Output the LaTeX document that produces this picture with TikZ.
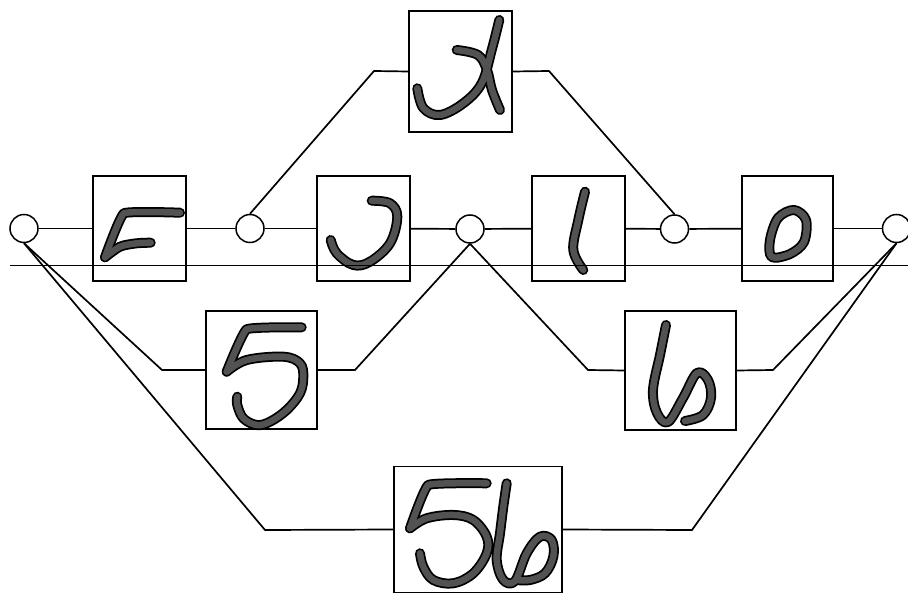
\documentclass[tikz,border=0pt]{standalone}
\newcommand{\digitstrokes}[1]{%
  % top box
  \draw[#1] plot[smooth, tension=0.6] coordinates {(417.3,88.3) (423.3,108) (440,115) (463.3,103.3) (481.7,83.3) (491.7,50) (499.3,20)};
  \draw[#1] plot[smooth, tension=0.6] coordinates {(456.7,50) (478,55) (487,70) (492,90) (500,110)};
  % box 1
  \draw[#1] plot[smooth, tension=0.2] coordinates {(180,212.7) (124,213.3) (105,257.3)};
  \draw[#1] plot[smooth, tension=0.5] coordinates {(105,257.3) (120,246.7) (136.7,243.3) (150.7,242.7)};
  % box 2
  \draw[#1] plot[smooth, tension=0.6] coordinates {(371.7,200.7) (390,203.3) (397.3,216.7) (390,243.3) (370,261.7) (353.3,265) (336.7,253.3) (330.7,240)};
  % box 3
  \draw[#1] plot[smooth, tension=0.6] coordinates {(585,191.7) (578.3,220) (573.3,250) (583.3,270)};
  % box 4
  \draw[#1] plot[smooth cycle, tension=0.55] coordinates {(771.7,257) (770,240) (778,218) (794,210) (806,220) (804,242) (790,254)};
  % box 5
  \draw[#1] plot[smooth, tension=0.2] coordinates {(301.7,327.3) (246.7,329.3) (226.7,371.7)};
  \draw[#1] plot[smooth, tension=0.6] coordinates {(226.7,371.7) (246.7,360) (283.3,356.7) (300,363.3) (303.3,376.7) (300,393.3) (286.7,410) (270,421.7) (256.7,425) (243.3,418.3) (237.3,405) (237.3,396.7)};
  % box 6
  \draw[#1] plot[smooth, tension=0.6] coordinates {(666,325) (660,355) (653,390) (657,413) (668,422) (683,398) (697,373) (708,380) (711,398) (703,415) (685,421)};
  % box 56
  \draw[#1] plot[smooth, tension=0.2] coordinates {(486.7,483.3) (428.3,485) (410,528.3)};
  \draw[#1] plot[smooth, tension=0.6] coordinates {(410,528.3) (426.7,518.3) (453.3,515) (473.3,520) (486.7,536.7) (486.7,553.3) (473.3,573.3) (453.3,583.3) (433.3,580) (423.3,566.7) (420,553.3)};
  \draw[#1] plot[smooth, tension=0.6] coordinates {(506.7,483.3) (503.3,506.7) (500,533.3) (496.7,560) (503.3,580) (515,581) (526.7,553.3) (540,536.7) (551.7,540) (553.3,556.7) (545,573.3) (530,580) (516.7,580)};
}
\begin{document}
\begin{tikzpicture}[x=1pt,y=-1pt,
  box/.style={draw, line width=1.7pt, inner sep=0pt, fill=white},
  hub/.style={draw, circle, line width=1.5pt, minimum size=28pt, inner sep=0pt, fill=white},
  wire/.style={line width=1.7pt},
  rulel/.style={line width=0.9pt},
  outl/.style={line width=10pt, black, line cap=round, line join=round},
  innr/.style={line width=6.5pt, black!68, line cap=round, line join=round}]
\useasboundingbox (0,0) rectangle (908,593);
% boxes
\node[box, minimum width=93pt, minimum height=105pt] (b1) at (139.5,228.5) {};
\node[box, minimum width=93pt, minimum height=105pt] (b2) at (363.5,228.5) {};
\node[box, minimum width=93pt, minimum height=105pt] (b3) at (578.5,228.5) {};
\node[box, minimum width=91pt, minimum height=105pt] (b4) at (787.5,228.5) {};
\node[box, minimum width=103pt, minimum height=121pt] (bt) at (460.5,71.5) {};
\node[box, minimum width=111pt, minimum height=118pt] (b5) at (261.5,370) {};
\node[box, minimum width=111pt, minimum height=119pt] (b6) at (680.5,370.5) {};
\node[box, minimum width=168pt, minimum height=126pt] (b56) at (478,529.5) {};
% hubs
\node[hub] (c1) at (24,228.5) {};
\node[hub] (c2) at (250,228.5) {};
\node[hub] (c3) at (470,229) {};
\node[hub] (c4) at (674.5,229) {};
\node[hub] (c5) at (896.5,228.5) {};
% bends
\coordinate (k1) at (374,71);
\coordinate (k2) at (549,71);
\coordinate (k3) at (162,370);
\coordinate (k4) at (355,370);
\coordinate (k5) at (588,370);
\coordinate (k6) at (773,370);
\coordinate (k7) at (265,530);
\coordinate (k8) at (692,530);
\coordinate (h1) at (10,265);
\coordinate (h2) at (908,265);
% wires
\draw[wire] (c1) -- (b1);
\draw[wire] (b1) -- (c2);
\draw[wire] (c2) -- (b2);
\draw[wire] (b2) -- (c3);
\draw[wire] (c3) -- (b3);
\draw[wire] (b3) -- (c4);
\draw[wire] (c4) -- (b4);
\draw[wire] (b4) -- (c5);
\draw[wire] (c2.north) -- (k1) -- (bt.west);
\draw[wire] (bt.east) -- (k2) -- (c4.north);
\draw[wire] (c1.south) -- (k3) -- (b5.west);
\draw[wire] (b5.east) -- (k4) -- (c3.south);
\draw[wire] (c3.south) -- (k5) -- (b6.west);
\draw[wire] (b6.east) -- (k6) -- (c5.south);
\draw[wire] (c1.south) -- (k7) -- (b56.west);
\draw[wire] (b56.east) -- (k8) -- (c5.south);
% handwritten digits
\digitstrokes{outl}
\digitstrokes{innr}
% thin rule
\draw[rulel] (h1) -- (h2);
\end{tikzpicture}
\end{document}
